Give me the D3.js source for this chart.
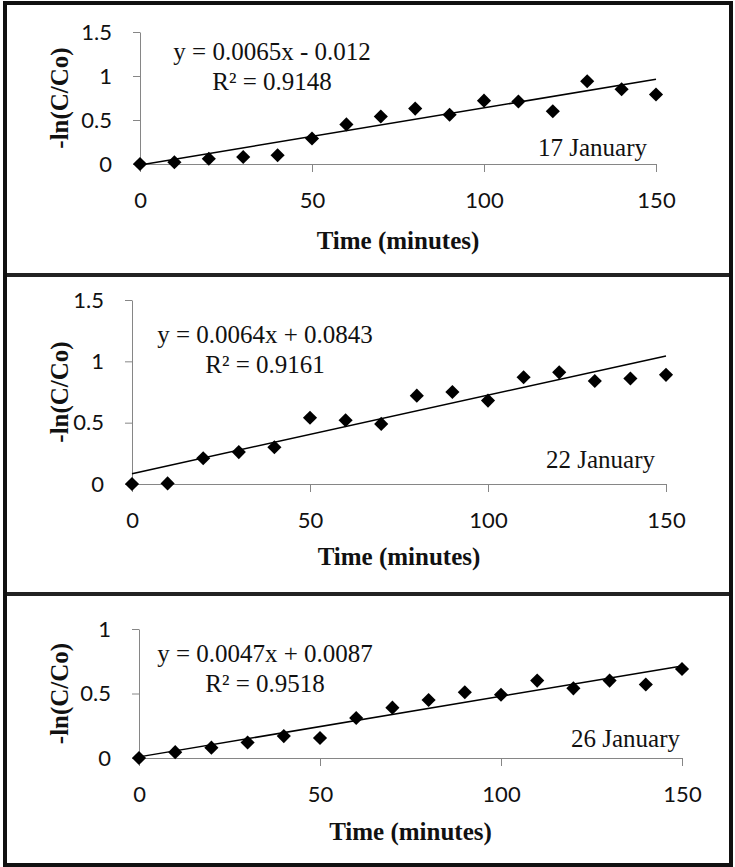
<!DOCTYPE html>
<html>
<head>
<meta charset="utf-8">
<script src="https://cdn.jsdelivr.net/npm/d3@7"></script>
<style>
  body { margin: 0; background: #fff; }
  svg { display: block; }
  .tick-label { font-family: Lato, 'Liberation Sans', sans-serif; font-size: 22px; fill: #111; }
  .serif { font-family: 'Liberation Serif', 'Times New Roman', serif; fill: #111; }
  .axis-title { font-size: 25px; font-weight: bold; }
  .note { font-size: 25px; }
</style>
</head>
<body>
<div id="diagram"></div>
<script>
// Sampling times (minutes)
var times = [0, 10, 20, 30, 40, 50, 60, 70, 80, 90, 100, 110, 120, 130, 140, 150];

// -ln(C/Co) values
var jan17Values = [0, 0.02, 0.06, 0.08, 0.1, 0.29, 0.45, 0.54, 0.63, 0.56, 0.72, 0.71, 0.6, 0.94, 0.85, 0.79];
var jan22Values = [0, 0.005, 0.21, 0.26, 0.3, 0.54, 0.52, 0.49, 0.72, 0.75, 0.68, 0.87, 0.91, 0.84, 0.86, 0.89];
var jan26Values = [0, 0.045, 0.08, 0.12, 0.17, 0.155, 0.31, 0.39, 0.45, 0.51, 0.49, 0.6, 0.54, 0.6, 0.57, 0.69];

// Trendline coefficients
var slopes = [0.0065, 0.0064, 0.0047];
var intercepts = [-0.012, 0.0843, 0.0087];

// Labels
var dateLabels = ['17 January', '22 January', '26 January'];
var equationLabels = ['y = 0.0065x - 0.012', 'y = 0.0064x + 0.0843', 'y = 0.0047x + 0.0087'];
var r2Labels = ['R\u00b2 = 0.9148', 'R\u00b2 = 0.9161', 'R\u00b2 = 0.9518'];
var yTitle = '-ln(C/Co)';
var xTitle = 'Time (minutes)';

// Axis ticks
var xTicks = [0, 50, 100, 150];
var yTicksPanels = [[0, 0.5, 1, 1.5], [0, 0.5, 1, 1.5], [0, 0.5, 1]];
var yMaxPanels = [1.5, 1.5, 1];

var w = 735;
var h = 867;

// Panel geometry (pixels)
var layouts = [
  { left: 140, right: 656, top: 32, bottom: 164, eqX: 272, eqY: 60, dateX: 647, dateY: 156, titleGap: 85 },
  { left: 132, right: 666, top: 300, bottom: 484, eqX: 265, eqY: 343, dateX: 655, dateY: 468, titleGap: 81 },
  { left: 139, right: 682, top: 629, bottom: 758, eqX: 265, eqY: 662, dateX: 680, dateY: 747, titleGap: 82 }
];

var separators = [275, 594];

function init() {
  var svg = d3
    .select('#diagram')
    .append('svg')
    .attr('width', w)
    .attr('height', h);

  var series = [jan17Values, jan22Values, jan26Values];

  layouts.forEach((layout, i) => {
    drawPanel(svg, layout, series[i], i);
  });

  // Panel separators
  svg
    .selectAll('.separator')
    .data(separators)
    .enter()
    .append('line')
    .attr('class', 'separator')
    .attr('x1', 3)
    .attr('x2', w - 3)
    .attr('y1', (d) => d)
    .attr('y2', (d) => d)
    .attr('stroke', '#222')
    .attr('stroke-width', 4);

  // Outer frame
  svg
    .append('rect')
    .attr('x', 5)
    .attr('y', 3)
    .attr('width', w - 9)
    .attr('height', h - 5)
    .attr('fill', 'none')
    .attr('stroke', '#111')
    .attr('stroke-width', 4);
}

function drawPanel(svg, layout, values, i) {
  var g = svg.append('g');

  // Scales
  var xScale = d3.scaleLinear().domain([0, 150]).range([layout.left, layout.right]);
  var yScale = d3.scaleLinear().domain([0, yMaxPanels[i]]).range([layout.bottom, layout.top]);

  // X axis
  var xAxis = d3
    .axisBottom(xScale)
    .tickValues(xTicks)
    .tickSize(8)
    .tickSizeOuter(0)
    .tickPadding(20)
    .tickFormat((d) => d);
  var xg = g
    .append('g')
    .attr('transform', `translate(0, ${layout.bottom})`)
    .call(xAxis);

  // Y axis
  var yAxis = d3
    .axisLeft(yScale)
    .tickValues(yTicksPanels[i])
    .tickSize(7)
    .tickSizeOuter(0)
    .tickPadding(21)
    .tickFormat((d) => d);
  var yg = g
    .append('g')
    .attr('transform', `translate(${layout.left}, 0)`)
    .call(yAxis);

  [xg, yg].forEach((a) => {
    a.select('.domain').attr('stroke', '#868686');
    a.selectAll('.tick line').attr('stroke', '#868686');
    a.selectAll('.tick text').attr('class', 'tick-label').attr('fill', null);
    a.attr('font-family', null).attr('font-size', null);
  });

  // Data points (diamonds)
  var diamond = d3.symbol().type(d3.symbolSquare).size(100);
  g.selectAll('.point')
    .data(times)
    .enter()
    .append('path')
    .attr('class', 'point')
    .attr('d', diamond)
    .attr('transform', (d, k) => `translate(${xScale(d)}, ${yScale(values[k])}) rotate(45)`)
    .attr('fill', '#000');

  // Trendline
  var line = d3
    .line()
    .x((d) => xScale(d))
    .y((d) => yScale(slopes[i] * d + intercepts[i]));
  g.append('path')
    .datum([0, 150])
    .attr('d', line)
    .attr('fill', 'none')
    .attr('stroke', '#000')
    .attr('stroke-width', 1.5);

  // Equation and R squared
  g.append('text')
    .attr('class', 'serif note')
    .attr('x', layout.eqX)
    .attr('y', layout.eqY)
    .attr('text-anchor', 'middle')
    .text(equationLabels[i]);
  g.append('text')
    .attr('class', 'serif note')
    .attr('x', layout.eqX)
    .attr('y', layout.eqY + 30)
    .attr('text-anchor', 'middle')
    .text(r2Labels[i]);

  // Date label
  g.append('text')
    .attr('class', 'serif note')
    .attr('x', layout.dateX)
    .attr('y', layout.dateY)
    .attr('text-anchor', 'end')
    .text(dateLabels[i]);

  // Axis titles
  g.append('text')
    .attr('class', 'serif axis-title')
    .attr('x', (layout.left + layout.right) / 2)
    .attr('y', layout.bottom + layout.titleGap)
    .attr('text-anchor', 'middle')
    .text(xTitle);
  g.append('text')
    .attr('class', 'serif axis-title')
    .attr('transform', `translate(68, ${(layout.top + layout.bottom) / 2}) rotate(-90)`)
    .attr('text-anchor', 'middle')
    .text(yTitle);
}

window.onload = init;
</script>
</body>
</html>
